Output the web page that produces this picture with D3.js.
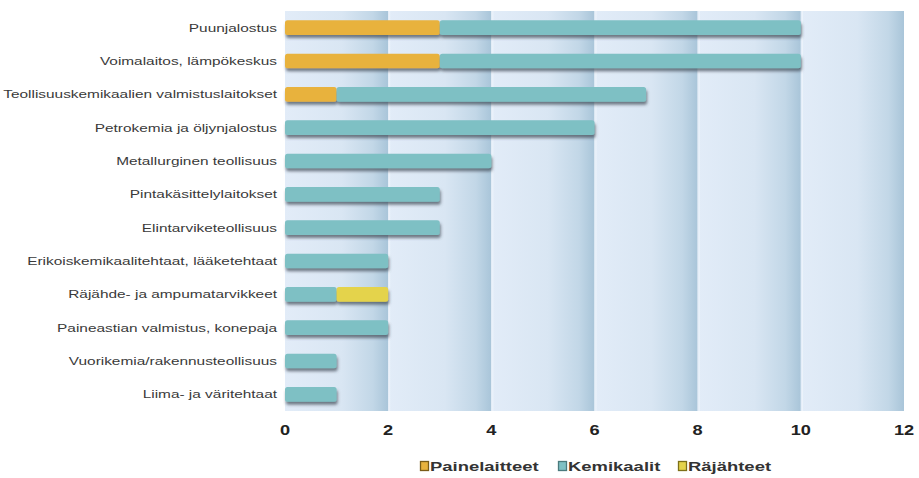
<!DOCTYPE html>
<html>
<head>
<meta charset="utf-8">
<script src="https://cdn.jsdelivr.net/npm/d3@7"></script>
<style>
  body { margin: 0; background: #fff; }
  svg { display: block; font-family: "Liberation Sans", Arial, sans-serif; }
</style>
</head>
<body>
<div id="chart"></div>
<script>
// Categories, top to bottom
const categories = [
  "Puunjalostus",
  "Voimalaitos, lämpökeskus",
  "Teollisuuskemikaalien valmistuslaitokset",
  "Petrokemia ja öljynjalostus",
  "Metallurginen teollisuus",
  "Pintakäsittelylaitokset",
  "Elintarviketeollisuus",
  "Erikoiskemikaalitehtaat, lääketehtaat",
  "Räjähde- ja ampumatarvikkeet",
  "Paineastian valmistus, konepaja",
  "Vuorikemia/rakennusteollisuus",
  "Liima- ja väritehtaat"
];
const seriesNames = ["Painelaitteet", "Kemikaalit", "Räjähteet"];
const painelaitteet = [3, 3, 1, 0, 0, 0, 0, 0, 0, 0, 0, 0];
const kemikaalit    = [7, 7, 6, 6, 4, 3, 3, 2, 1, 2, 1, 1];
const rajahteet     = [0, 0, 0, 0, 0, 0, 0, 0, 1, 0, 0, 0];
const xTicks = [0, 2, 4, 6, 8, 10, 12];

const colors = ["#e8b23d", "#7ec0c4", "#e4d34b"];
const legendBorders = ["#7a5c18", "#4a7a7d", "#7d7018"];

const width = 919, height = 478;
const margin = { top: 11, right: 15, bottom: 67, left: 285 };
const stretch = 1.4; // the source image is stretched horizontally

const svg = d3.select("#chart").append("svg")
  .attr("width", width)
  .attr("height", height);

const defs = svg.append("defs");

// background band gradient
const bandGrad = defs.append("linearGradient")
  .attr("id", "band")
  .attr("x1", "0").attr("x2", "1").attr("y1", "0").attr("y2", "0");
bandGrad.append("stop").attr("offset", "0").attr("stop-color", "#e2ecf8");
bandGrad.append("stop").attr("offset", "0.55").attr("stop-color", "#d9e6f3");
bandGrad.append("stop").attr("offset", "0.85").attr("stop-color", "#c2d7e7");
bandGrad.append("stop").attr("offset", "1").attr("stop-color", "#a9c5d9");

// bar shadow
const shadow = defs.append("filter")
  .attr("id", "shadow")
  .attr("x", "-5%").attr("y", "-30%").attr("width", "110%").attr("height", "180%");
shadow.append("feDropShadow")
  .attr("dx", 1).attr("dy", 3)
  .attr("stdDeviation", 1.6)
  .attr("flood-color", "#3f4a55")
  .attr("flood-opacity", 0.7);

const x = d3.scaleLinear()
  .domain([0, 12])
  .range([margin.left, width - margin.right]);

const y = d3.scaleBand()
  .domain(categories)
  .range([margin.top, height - margin.bottom])
  .paddingInner(0.56)
  .paddingOuter(0.28);

// background bands
const bands = d3.pairs(xTicks);
svg.append("g").selectAll("rect")
  .data(bands)
  .join("rect")
  .attr("x", d => x(d[0]))
  .attr("y", margin.top)
  .attr("width", d => x(d[1]) - x(d[0]))
  .attr("height", height - margin.bottom - margin.top)
  .attr("fill", "url(#band)");

// thin light line just after each tick
svg.append("g").selectAll("line")
  .data(xTicks.slice(1, -1))
  .join("line")
  .attr("x1", d => x(d) + 1.5).attr("x2", d => x(d) + 1.5)
  .attr("y1", margin.top).attr("y2", height - margin.bottom)
  .attr("stroke", "#eef4fb")
  .attr("stroke-width", 1);

// stacked data
const rows = categories.map((c, i) => ({
  category: c,
  Painelaitteet: painelaitteet[i],
  Kemikaalit: kemikaalit[i],
  "Räjähteet": rajahteet[i]
}));
const stacked = d3.stack().keys(seriesNames)(rows);

const barsG = svg.append("g").attr("filter", "url(#shadow)");
stacked.forEach((layer, li) => {
  barsG.append("g")
    .selectAll("rect")
    .data(layer.filter(d => d[1] > d[0]))
    .join("rect")
    .attr("x", d => x(d[0]))
    .attr("y", d => y(d.data.category))
    .attr("width", d => x(d[1]) - x(d[0]))
    .attr("height", y.bandwidth())
    .attr("rx", 2.5)
    .attr("fill", colors[li]);
});

// category labels
svg.append("g").selectAll("text")
  .data(categories)
  .join("text")
  .attr("transform", d => `translate(277,${y(d) + y.bandwidth() / 2}) scale(${stretch},1)`)
  .attr("dy", "0.35em")
  .attr("text-anchor", "end")
  .style("font-size", "11px")
  .style("fill", "#3a3a3a")
  .text(d => d);

// x tick labels
svg.append("g").selectAll("text")
  .data(xTicks)
  .join("text")
  .attr("transform", d => `translate(${x(d)},435) scale(1.3,1)`)
  .attr("text-anchor", "middle")
  .style("font-size", "14px")
  .style("font-weight", "bold")
  .style("fill", "#222")
  .text(d => d);

// legend
const legendX = [420, 558, 678];
const legend = svg.append("g").selectAll("g")
  .data(seriesNames)
  .join("g")
  .attr("transform", (d, i) => `translate(${legendX[i]},466)`);
legend.append("rect")
  .attr("x", 0.5).attr("y", -4.5)
  .attr("width", 8).attr("height", 9)
  .attr("fill", (d, i) => colors[i])
  .attr("stroke", (d, i) => legendBorders[i])
  .attr("stroke-width", 1.3);
legend.append("text")
  .attr("transform", `translate(10,0) scale(1.42,1)`)
  .attr("dy", "0.38em")
  .style("font-size", "13px")
  .style("font-weight", "bold")
  .style("fill", "#333")
  .text(d => d);
</script>
</body>
</html>
